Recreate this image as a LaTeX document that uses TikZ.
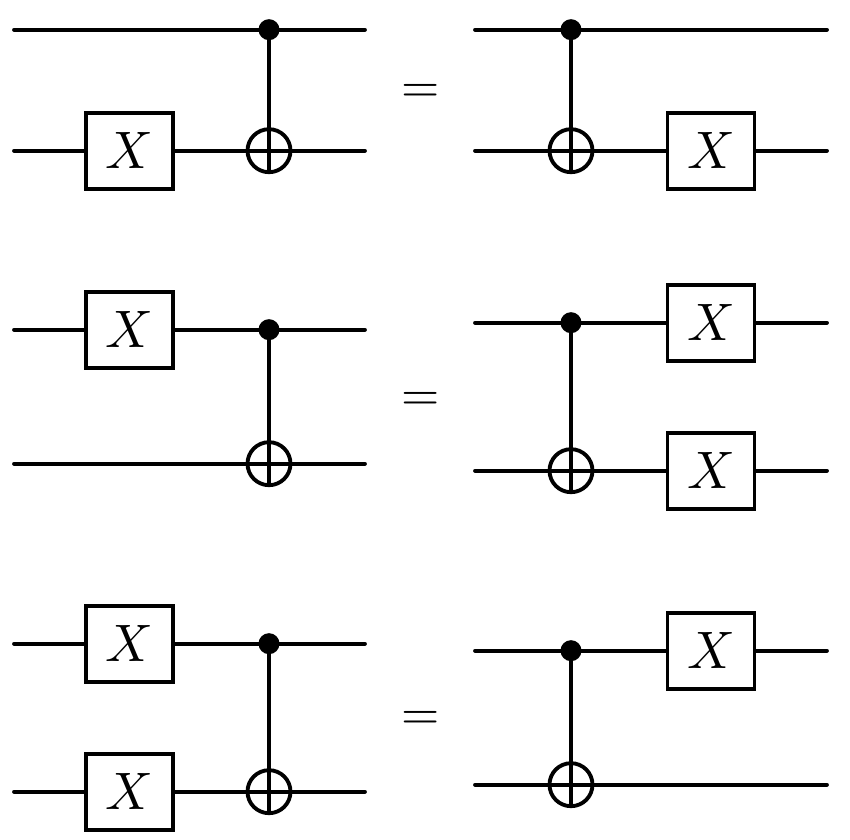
\documentclass[tikz,border=0pt]{standalone}
\usepackage{amsmath,amssymb}
\usepackage{graphicx}
\usepackage{xcolor}
\usepackage{tikz}
\usetikzlibrary{positioning,calc}
\tikzset{
    wire/.style={line width=2.2pt, line cap=round},
    stem/.style={line width=2.2pt},
    xgate/.style={draw, line width=2.2pt, fill=white, minimum width=1.74cm, minimum height=1.52cm, inner sep=0pt},
    ctrl/.style={circle, fill=black, minimum size=0.42cm, inner sep=0pt},
    target/.style={circle, draw, line width=2.2pt, fill=white, minimum size=0.86cm, inner sep=0pt},
    eqsign/.style={inner sep=0pt}
}
\newcommand{\xsym}{\scalebox{3}{$X$}}
\newcommand{\eqsym}{\scalebox{2.8}{$=$}}
% cnot with the control at y1 and the target at y2, x positions in cm
\newcommand{\cnotgate}[4]{
    \node [target] (#1t) at (#2, #4) {};
    \node [ctrl] (#1c) at (#2, #3) {};
    \draw [stem] (#1c.center) -- (#1t.south);
    \draw [stem] (#1t.west) -- (#1t.east);
}
\begin{document}
\begin{tikzpicture}[x=0.02cm, y=-0.02cm]
    \useasboundingbox (0, -0.7) rectangle (850, 839.3);

    % Row 1, left
    \coordinate (a1) at (14, 29);
    \coordinate (a2) at (365, 29);
    \coordinate (a3) at (14, 150);
    \coordinate (a4) at (365, 150);
    \node [xgate] (ax) at (129.5, 150) {\xsym};
    \draw [wire] (a1) -- (a2);
    \draw [wire] (a3) -- (ax) -- (a4);
    \cnotgate{a}{269}{29}{150}

    \node [eqsign] (eq1) at (421, 93) {\eqsym};

    % Row 1, right
    \coordinate (b1) at (475, 29);
    \coordinate (b2) at (827, 29);
    \coordinate (b3) at (475, 150);
    \coordinate (b4) at (827, 150);
    \node [xgate] (bx) at (711, 150) {\xsym};
    \draw [wire] (b1) -- (b2);
    \draw [wire] (b3) -- (bx) -- (b4);
    \cnotgate{b}{571}{29}{150}

    % Row 2, left
    \coordinate (c1) at (14, 329);
    \coordinate (c2) at (365, 329);
    \coordinate (c3) at (14, 463);
    \coordinate (c4) at (365, 463);
    \node [xgate] (cx) at (129.5, 329) {\xsym};
    \draw [wire] (c1) -- (cx) -- (c2);
    \draw [wire] (c3) -- (c4);
    \cnotgate{c}{269}{329}{463}

    \node [eqsign] (eq2) at (421, 401) {\eqsym};

    % Row 2, right
    \coordinate (d1) at (475, 322);
    \coordinate (d2) at (827, 322);
    \coordinate (d3) at (475, 470);
    \coordinate (d4) at (827, 470);
    \node [xgate] (dx) at (711, 322) {\xsym};
    \node [xgate] (dy) at (711, 470) {\xsym};
    \draw [wire] (d1) -- (dx) -- (d2);
    \draw [wire] (d3) -- (dy) -- (d4);
    \cnotgate{d}{571}{322}{470}

    % Row 3, left
    \coordinate (e1) at (14, 643);
    \coordinate (e2) at (365, 643);
    \coordinate (e3) at (14, 791);
    \coordinate (e4) at (365, 791);
    \node [xgate] (ex) at (129.5, 643) {\xsym};
    \node [xgate] (ey) at (129.5, 791) {\xsym};
    \draw [wire] (e1) -- (ex) -- (e2);
    \draw [wire] (e3) -- (ey) -- (e4);
    \cnotgate{e}{269}{643}{791}

    \node [eqsign] (eq3) at (421, 720) {\eqsym};

    % Row 3, right
    \coordinate (f1) at (475, 650);
    \coordinate (f2) at (827, 650);
    \coordinate (f3) at (475, 784);
    \coordinate (f4) at (827, 784);
    \node [xgate] (fx) at (711, 650) {\xsym};
    \draw [wire] (f1) -- (fx) -- (f2);
    \draw [wire] (f3) -- (f4);
    \cnotgate{f}{571}{650}{784}
\end{tikzpicture}
\end{document}
